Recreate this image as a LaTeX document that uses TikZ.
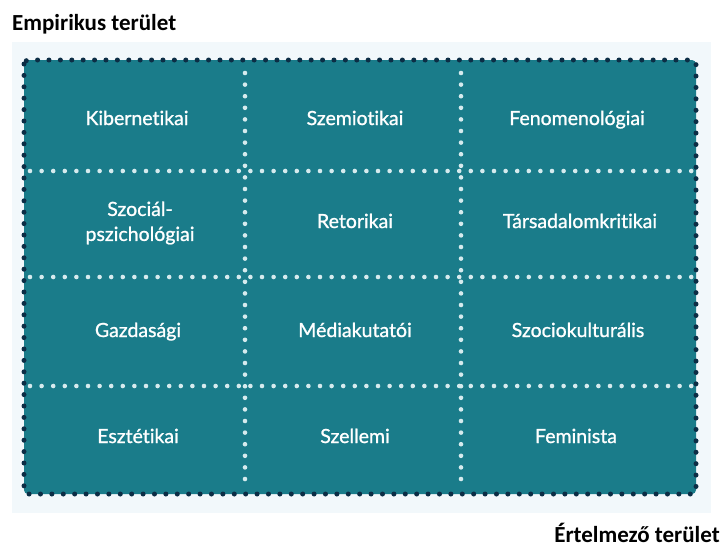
\documentclass[tikz,border=0pt]{standalone}
\usepackage{fontspec}
\setmainfont{Lato}
\newfontfamily\titlefont{Carlito}
\newfontfamily\cellfont{Lato}[AutoFakeBold=1.1,Ligatures={NoCommon,NoDiscretionary}]
\definecolor{pagebg}{HTML}{FFFFFF}
\definecolor{areabg}{HTML}{F2F8FB}
\definecolor{tealfill}{HTML}{1A7C8A}
\definecolor{darkdot}{HTML}{0C2D45}
\definecolor{lightdot}{HTML}{D6EBEE}
\tikzset{
  x=1pt, y=-1pt,
  cell/.style={font=\cellfont\bfseries\fontsize{19.5}{25}\selectfont, text=white, align=center, inner sep=0pt, anchor=base},
  divider/.style={draw=lightdot, line width=4.6pt, line cap=round, dash pattern=on 0pt off 11.6pt},
  outline/.style={draw=darkdot, line width=5pt, line cap=round, dash pattern=on 0pt off 11.4pt},
  areatitle/.style={font=\titlefont\bfseries\fontsize{23}{26}\selectfont, text=black, inner sep=0pt}
}
\begin{document}
\begin{tikzpicture}
\useasboundingbox (0,0) rectangle (722,550);
\fill[pagebg] (0,0) rectangle (722,550);
\fill[areabg] (12,42) rectangle (711,513);
\fill[tealfill, rounded corners=4pt] (24,60) rectangle (696,494);
% dividers
\draw[divider] (245,73) -- (245,490);
\draw[divider] (461,73) -- (461,490);
\draw[divider] (30,171) -- (692,171);
\draw[divider] (30,277) -- (692,277);
\draw[divider] (30,386) -- (692,386);
% outline dots
\draw[outline, rounded corners=4pt] (24,60) rectangle (696,494);
% cells
\node[cell] (c11) at (137,125) {Kibernetikai};
\node[cell] (c12) at (355,125) {Szemiotikai};
\node[cell] (c13) at (577,125) {Fenomenológiai};
\node[cell, anchor=center] (c21) at (140,223) {Szociál-\\pszichológiai};
\node[cell] (c22) at (355,228) {Retorikai};
\node[cell] (c23) at (580,228) {Társadalomkritikai};
\node[cell] (c31) at (138,337) {Gazdasági};
\node[cell] (c32) at (355,337) {Médiakutatói};
\node[cell] (c33) at (578,337) {Szociokulturális};
\node[cell] (c41) at (138,443) {Esztétikai};
\node[cell] (c42) at (355,443) {Szellemi};
\node[cell] (c43) at (576,443) {Feminista};
% axis titles
\node[areatitle, anchor=base west] (emp) at (12,30) {Empirikus terület};
\node[areatitle, anchor=base east] (ert) at (720,542) {Értelmező terület};
\end{tikzpicture}
\end{document}
